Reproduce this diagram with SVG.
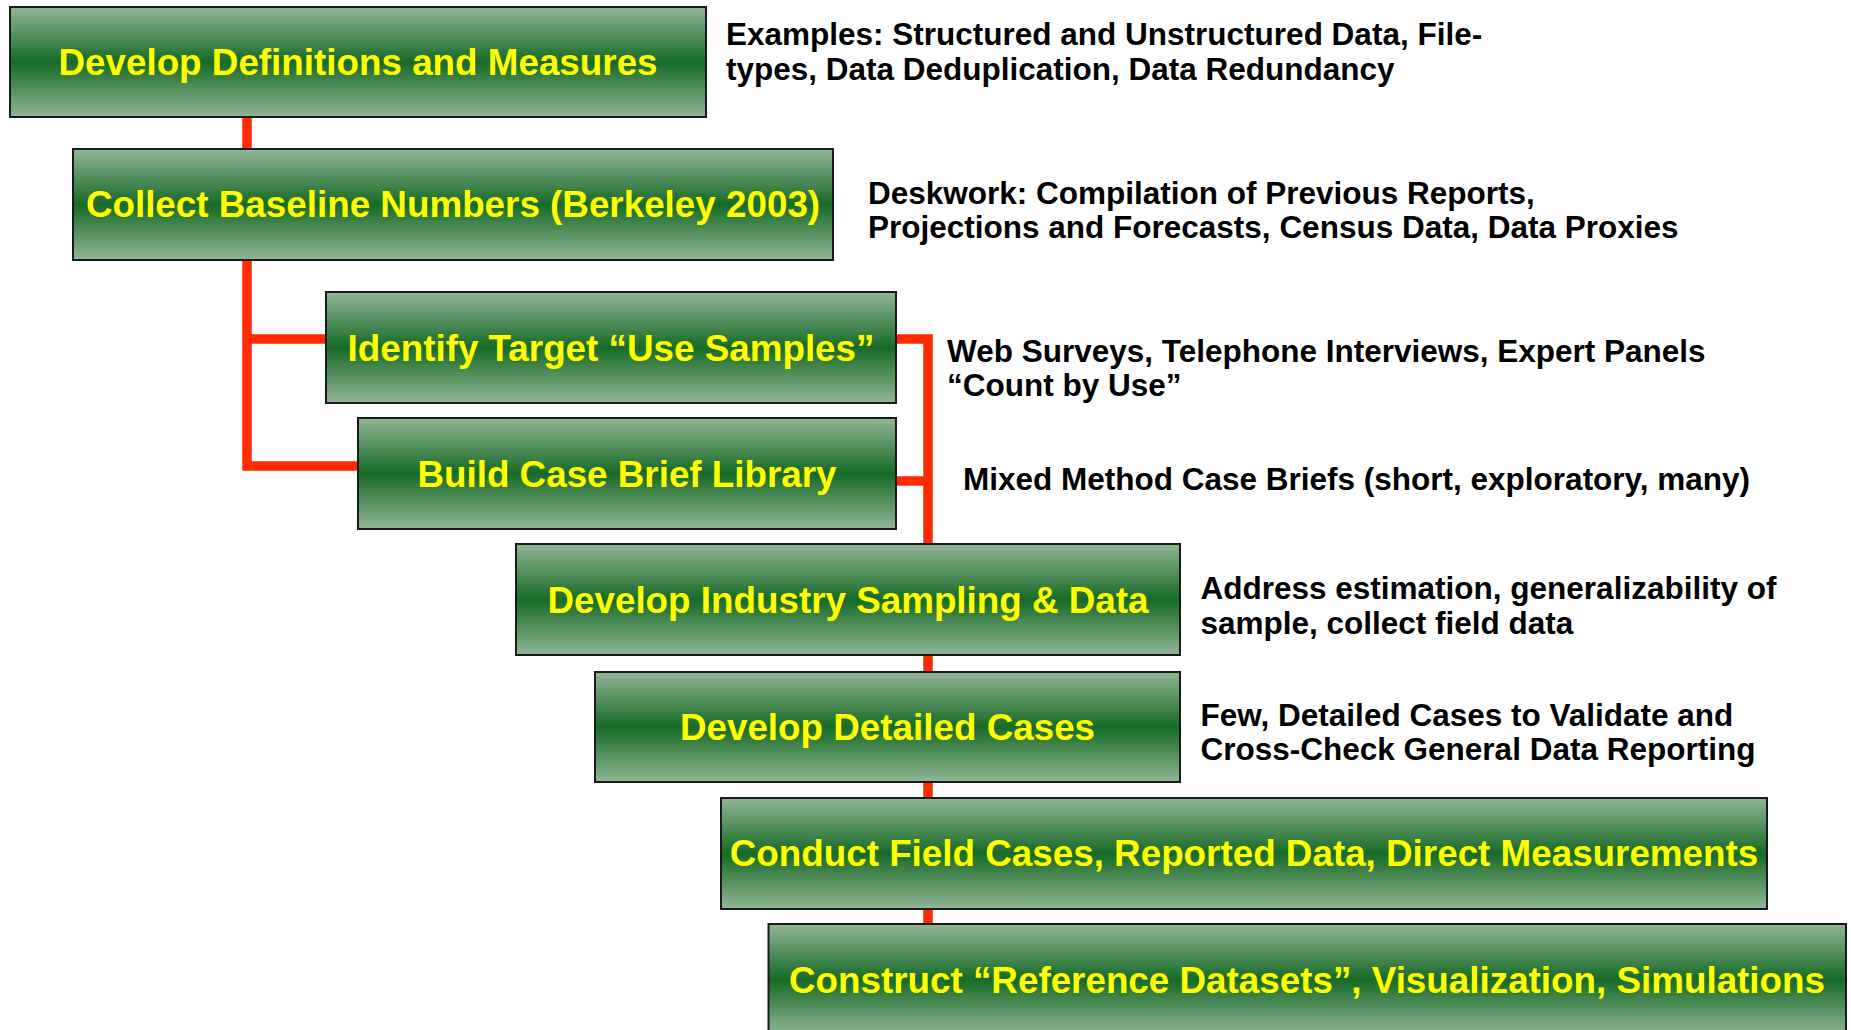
<svg xmlns="http://www.w3.org/2000/svg" width="1851" height="1030" viewBox="0 0 1851 1030">
<defs>
<linearGradient id="g" x1="0" y1="0" x2="0" y2="1">
<stop offset="0" stop-color="#91b695"/>
<stop offset="0.5" stop-color="#176a27"/>
<stop offset="1" stop-color="#91b695"/>
</linearGradient>
<linearGradient id="g8" gradientUnits="userSpaceOnUse" x1="0" y1="924" x2="0" y2="1035">
<stop offset="0" stop-color="#91b695"/>
<stop offset="0.5" stop-color="#176a27"/>
<stop offset="1" stop-color="#91b695"/>
</linearGradient>
</defs>
<style>
.box{stroke:#1a1a1a;stroke-width:2}
.lbl{font-family:"Liberation Sans",Arial,sans-serif;font-weight:bold;font-size:36.8px;fill:#ffff00;text-anchor:middle}
.ann{font-family:"Liberation Sans",Arial,sans-serif;font-weight:bold;font-size:31.5px;fill:#000}
.con{stroke:#ff2a00;stroke-width:9.5;fill:none;stroke-linecap:butt;stroke-linejoin:miter}
</style>
<rect width="1851" height="1030" fill="#fff"/>
<g id="connectors">
<path class="con" d="M247 117 V149"/>
<path class="con" d="M247 260 V466 H358"/>
<path class="con" d="M247 339 H326"/>
<path class="con" d="M896 339 H928 V544"/>
<path class="con" d="M896 481 H928"/>
<path class="con" d="M928 655 V672"/>
<path class="con" d="M928 781 V798"/>
<path class="con" d="M928 909 V924"/>
</g>
<g id="n1">
<rect class="box" x="10" y="7" width="696" height="110" fill="url(#g)"/>
<text class="lbl" x="358" y="75">Develop Definitions and Measures</text>
</g>
<g id="n2">
<rect class="box" x="73" y="149" width="760" height="111" fill="url(#g)"/>
<text class="lbl" x="453" y="217">Collect Baseline Numbers (Berkeley 2003)</text>
</g>
<g id="n3">
<rect class="box" x="326" y="292" width="570" height="111" fill="url(#g)"/>
<text class="lbl" x="611" y="361">Identify Target “Use Samples”</text>
</g>
<g id="n4">
<rect class="box" x="358" y="418" width="538" height="111" fill="url(#g)"/>
<text class="lbl" x="627" y="487">Build Case Brief Library</text>
</g>
<g id="n5">
<rect class="box" x="516" y="544" width="664" height="111" fill="url(#g)"/>
<text class="lbl" x="848" y="613">Develop Industry Sampling &amp; Data</text>
</g>
<g id="n6">
<rect class="box" x="595" y="672" width="585" height="110" fill="url(#g)"/>
<text class="lbl" x="887.5" y="740">Develop Detailed Cases</text>
</g>
<g id="n7">
<rect class="box" x="721" y="798" width="1046" height="111" fill="url(#g)"/>
<text class="lbl" x="1244" y="866">Conduct Field Cases, Reported Data, Direct Measurements</text>
</g>
<g id="n8">
<rect class="box" x="768.5" y="924" width="1077.5" height="111" fill="url(#g8)"/>
<text class="lbl" x="1307" y="993">Construct “Reference Datasets”, Visualization, Simulations</text>
</g>
<g id="annotations">
<text class="ann" x="726" y="45">Examples: Structured and Unstructured Data, File-</text>
<text class="ann" x="726" y="79.5">types, Data Deduplication, Data Redundancy</text>
<text class="ann" x="868" y="203.5">Deskwork: Compilation of Previous Reports,</text>
<text class="ann" x="868" y="238">Projections and Forecasts, Census Data, Data Proxies</text>
<text class="ann" x="947" y="362">Web Surveys, Telephone Interviews, Expert Panels</text>
<text class="ann" x="947" y="396">“Count by Use”</text>
<text class="ann" x="963" y="489.5">Mixed Method Case Briefs (short, exploratory, many)</text>
<text class="ann" x="1200.5" y="599">Address estimation, generalizability of</text>
<text class="ann" x="1200.5" y="633.5">sample, collect field data</text>
<text class="ann" x="1200.5" y="725.5">Few, Detailed Cases to Validate and</text>
<text class="ann" x="1200.5" y="760">Cross-Check General Data Reporting</text>
</g>
</svg>
